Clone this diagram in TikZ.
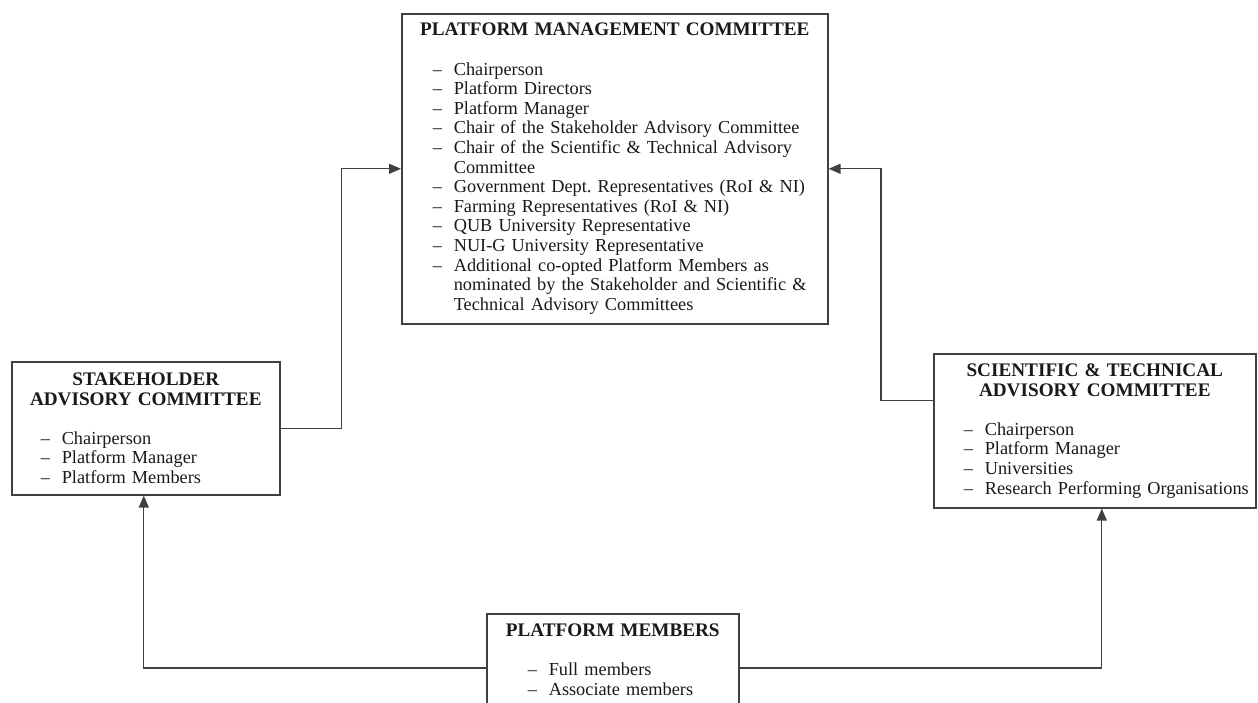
\documentclass[tikz,border=0pt]{standalone}
\usepackage{fontspec}
\setmainfont{Liberation Serif}
\usetikzlibrary{arrows.meta}
\newcommand{\dashitem}[1]{\par\noindent\hangindent = 21pt\hangafter = 1\makebox[21pt][l]{--}#1}
\newcommand{\boxtitle}[1]{{\centering\fontsize{19.2}{19.6}\selectfont\bfseries #1\par}\vspace{19.6pt}}

\begin{document}
\begin{tikzpicture}[x = 1pt, y = -1pt, box/.style = {draw = black!75, line width = 1.6pt, rectangle, anchor = north west, inner sep = 0pt, align = left, font = \fontsize{18.3}{19.6}\selectfont\frenchspacing, text = black!90}, link/.style = {draw = black!75, line width = 1.3pt, -{Triangle[length = 12pt, width = 10pt]}}]%committee structure
	\useasboundingbox (0,0) rectangle (1258,702);
	\node[box, minimum width = 426pt, minimum height = 310pt, text width = 426pt](PMC) at (401,13){\boxtitle{PLATFORM MANAGEMENT COMMITTEE}\leftskip = 31pt
		\dashitem{Chairperson}
		\dashitem{Platform Directors}
		\dashitem{Platform Manager}
		\dashitem{Chair of the Stakeholder Advisory Committee}
		\dashitem{Chair of the Scientific \& Technical Advisory\newline Committee}
		\dashitem{Government Dept. Representatives (RoI \& NI)}
		\dashitem{Farming Representatives (RoI \& NI)}
		\dashitem{QUB University Representative}
		\dashitem{NUI-G University Representative}
		\dashitem{Additional co-opted Platform Members as\newline nominated by the Stakeholder and Scientific \&\newline Technical Advisory Committees}\par};
	\node[box, minimum width = 268pt, minimum height = 133pt, text width = 268pt](SAC) at (11,361){\boxtitle{STAKEHOLDER\\ADVISORY COMMITTEE}\leftskip = 29pt
		\dashitem{Chairperson}
		\dashitem{Platform Manager}
		\dashitem{Platform Members}\par};
	\node[box, minimum width = 322pt, minimum height = 154pt, text width = 322pt](STAC) at (933,353){\boxtitle{SCIENTIFIC \& TECHNICAL\\ADVISORY COMMITTEE}\leftskip = 30pt
		\dashitem{Chairperson}
		\dashitem{Platform Manager}
		\dashitem{Universities}
		\dashitem{Research Performing Organisations}\par};
	\node[box, inner ysep = 10pt, text width = 252pt](PM) at (486,613){\boxtitle{PLATFORM MEMBERS}\leftskip = 41pt
		\dashitem{Full members}
		\dashitem{Associate members}\par\vspace*{60pt}};
	\draw[link]
	(SAC.east) -- ++(61,0) |- (PMC.west);
	\draw[link]
	([yshift = 30pt]STAC.west) -- ++(-52,0) |- (PMC.east);
	\draw[link]
	([yshift = -55pt]PM.north west) -| ([xshift = -2pt]SAC.south);
	\draw[link]
	([yshift = -55pt]PM.north east) -| ([xshift = 7pt]STAC.south);
\end{tikzpicture}
\end{document}
